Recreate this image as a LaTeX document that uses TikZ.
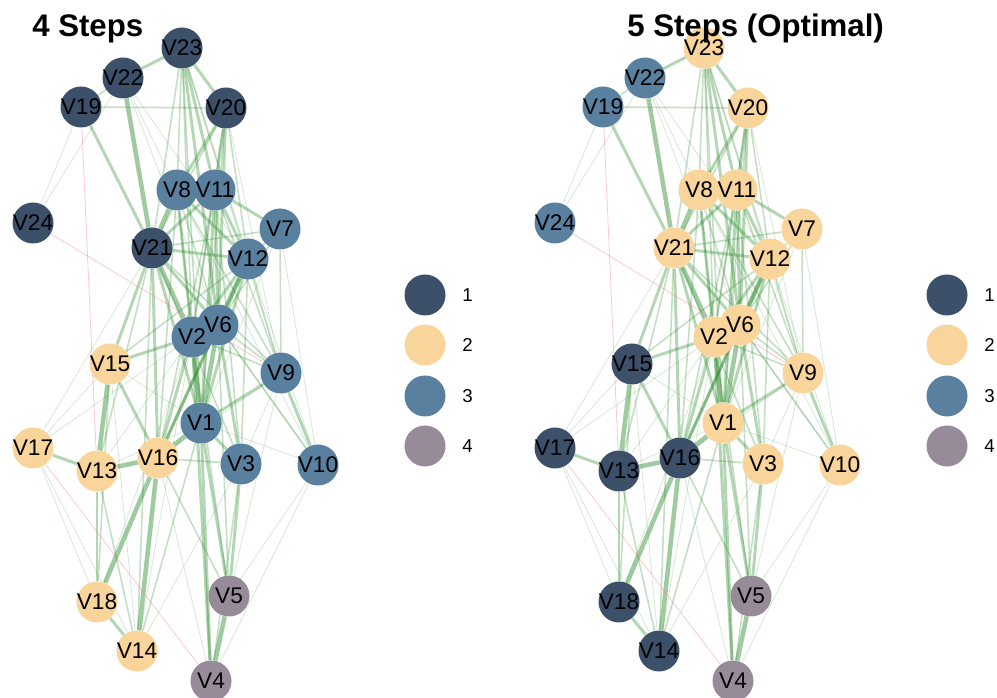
\documentclass[tikz,border=0pt]{standalone}
\usepackage{fontspec}
\setmainfont{Liberation Sans}
\usetikzlibrary{backgrounds}
\definecolor{grpone}{RGB}{60,80,105}
\definecolor{grptwo}{RGB}{249,212,155}
\definecolor{grpthree}{RGB}{90,128,160}
\definecolor{grpfour}{RGB}{152,139,153}
\definecolor{edgegreen}{RGB}{45,140,45}
\definecolor{edgepink}{RGB}{240,120,140}

% all edges of one network, #1 is the node name prefix
\newcommand{\netedges}[1]{%
  \foreach \a/\b in {22/21,5/4,1/16,16/18,21/2,12/6,16/14,13/16,2/1,21/8,6/1,13/15}
    \draw[ewfour] (#1\a) -- (#1\b);
  \foreach \a/\b in {19/21,22/23,23/20,20/8,11/7,2/15,9/1,9/10,17/13,18/14,13/18,1/3,15/16,
      21/12,21/1,21/6,12/2,11/6,11/1,20/11,23/11,1/5,1/4,21/16,21/15,8/12,11/12,12/1,6/3,
      3/5,20/6,23/6,21/11,2/16,6/16,8/2,12/16,2/4}
    \draw[ewthree] (#1\a) -- (#1\b);
  \foreach \a/\b in {19/22,19/20,23/8,23/21,23/12,23/2,23/1,20/12,20/2,20/21,20/1,11/2,11/9,
      11/3,11/16,8/1,8/16,8/9,7/12,7/9,7/21,7/6,12/9,12/3,6/9,6/10,2/9,2/5,1/14,16/3,15/18,
      13/14,3/4,21/3,21/9,21/13,21/14,12/15,6/5,16/5,8/6}
    \draw[ewtwo] (#1\a) -- (#1\b);
  \foreach \a/\b in {19/24,22/24,22/8,22/12,17/15,17/21,17/2,17/18,17/14,13/2,15/14,1/10,
      10/4,10/5,10/12,10/6,3/14,16/4,9/3,9/5,7/1,8/10,23/9,20/9,18/2,1/13,16/9,7/10,1/15,
      14/2,22/6}
    \draw[ewone] (#1\a) -- (#1\b);
  \foreach \a/\b in {24/9,19/13,17/4}
    \draw[ewneg] (#1\a) -- (#1\b);
}

\begin{document}
\begin{tikzpicture}[x=0.75pt,y=-0.75pt,
  vnode/.style={circle,minimum size=30.75pt,inner sep=0pt},
  vlabel/.style={inner sep=0pt,text=black,font=\fontsize{17}{17}\selectfont},
  keynode/.style={circle,minimum size=30.75pt,inner sep=0pt},
  keytext/.style={anchor=west,inner sep=0pt,font=\fontsize{14}{14}\selectfont},
  paneltitle/.style={anchor=base west,inner sep=0pt,font=\fontsize{23.4}{25}\selectfont\bfseries},
  ewfour/.style={edgegreen,line width=3.4pt,opacity=.45},
  ewthree/.style={edgegreen,line width=2.2pt,opacity=.36},
  ewtwo/.style={edgegreen,line width=1.2pt,opacity=.28},
  ewone/.style={edgegreen,line width=.6pt,opacity=.2},
  ewneg/.style={edgepink,line width=.6pt,opacity=.4}]
\useasboundingbox (0,0) rectangle (997,698);

% left network
\foreach \n/\x/\y/\g in {1/201/423/three,2/192/337/three,3/241/464/three,4/211/681/four,
    5/229/596/four,6/218/325/three,7/280/229/three,8/177/190/three,9/281/373/three,
    10/318/465/three,11/215/190/three,12/248/259/three,13/97/471/two,14/137/651/two,
    15/110/364/two,16/158/458/two,17/33/448/two,18/97/602/two,19/81/107/one,20/226/108/one,
    21/152/248/one,22/123/78/one,23/182/48/one,24/33/223/one}
  \node[vnode,fill=grp\g] (L\n) at (\x,\y) {};

% right network
\foreach \n/\x/\y/\g in {1/201/423/two,2/192/337/two,3/241/464/two,4/211/681/four,
    5/229/596/four,6/218/325/two,7/280/229/two,8/177/190/two,9/281/373/two,
    10/318/465/two,11/215/190/two,12/248/259/two,13/97/471/one,14/137/651/one,
    15/110/364/one,16/158/458/one,17/33/448/one,18/97/602/one,19/81/107/three,20/226/108/two,
    21/152/248/two,22/123/78/three,23/182/48/two,24/33/223/three}
  \node[vnode,fill=grp\g] (R\n) at (\x+522,\y) {};

% labels go over all circles
\foreach \n in {1,...,24}{
  \node[vlabel] at (L\n) {V\n};
  \node[vlabel] at (R\n) {V\n};
}

\begin{pgfonlayer}{background}
  \netedges{L}
  \netedges{R}
\end{pgfonlayer}

% titles
\node[paneltitle] (titleL) at (32,37) {4 Steps};
\node[paneltitle] (titleR) at (627,37) {5 Steps (Optimal)};

% legends
\foreach \k/\y/\g in {1/295/one,2/345/two,3/396/three,4/446/four}{
  \node[keynode,fill=grp\g] (keyL\k) at (425,\y) {};
  \node[keytext] at (462,\y) {\k};
  \node[keynode,fill=grp\g] (keyR\k) at (947,\y) {};
  \node[keytext] at (984,\y) {\k};
}
\end{tikzpicture}
\end{document}
